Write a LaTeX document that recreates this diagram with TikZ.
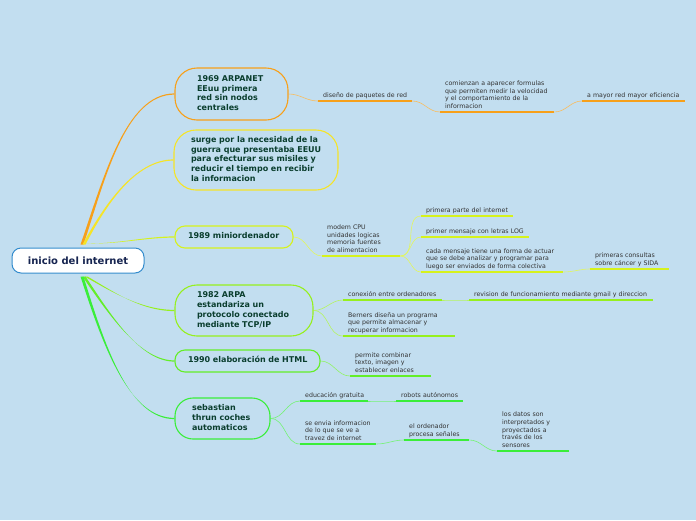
\documentclass[tikz,border=0pt]{standalone}
\usepackage{fontspec}
\setmainfont{DejaVu Sans}
\usetikzlibrary{calc}
\definecolor{bgc}{RGB}{194,222,240}
\definecolor{rootblue}{RGB}{52,140,205}
\definecolor{navy}{RGB}{22,36,80}
\definecolor{maintext}{RGB}{10,62,46}
\definecolor{subtext}{RGB}{50,50,50}
\definecolor{cO}{RGB}{247,160,26}
\definecolor{cY}{RGB}{245,228,40}
\definecolor{cYG}{RGB}{214,242,28}
\definecolor{cGY}{RGB}{150,240,30}
\definecolor{cG}{RGB}{100,238,40}
\definecolor{cGG}{RGB}{58,238,58}
\pgfdeclarelayer{bg}
\pgfdeclarelayer{conn}
\pgfsetlayers{bg,conn,main}
\newcommand\mylines[1]{\begin{tabular}{@{}l@{}}#1\end{tabular}}
% tapered trunk: #1 colour, #2 start, #3 c1, #4 c2, #5 end node anchor
\newcommand\mytaper[5]{%
  \fill[#1] ($(#2)+(-1.5,0)$) .. controls ($(#3)+(-1,0)$) and ($(#4)+(0,-0.6)$) ..
    ($(#5)+(0,-0.6)$) -- ($(#5)+(0,0.6)$) .. controls ($(#4)+(0,0.6)$) and ($(#3)+(1,0)$) ..
    ($(#2)+(1.5,0)$) -- cycle;}
\tikzset{
  rootbox/.style={draw=rootblue, fill=white, line width=1pt, rounded corners=9pt,
    minimum width=132pt, minimum height=25pt, inner sep=0pt, text=navy,
    font=\fontsize{10}{12}\selectfont\bfseries},
  mainbox/.style={draw=#1, fill=bgc, line width=1.1pt, align=left, text=maintext,
    font=\fontsize{8}{9.8}\selectfont\bfseries, inner ysep=0pt},
  subbox/.style={anchor=south west, inner xsep=5pt, inner ysep=1pt, text width=#1,
    align=left, text=subtext, font=\fontsize{6.25}{7.7}\selectfont},
  twig/.style={draw=#1!70!white, line width=0.6pt},
  uline/.style={draw=#1, line width=1.7pt}
}
\begin{document}
\begin{tikzpicture}[x=1pt,y=-1pt]
\begin{pgfonlayer}{bg}
\fill[bgc] (0,0) rectangle (696,520);
\end{pgfonlayer}
\useasboundingbox (0,0) rectangle (696,520);

% root
\node[rootbox] (root) at (78,260.5) {inicio del internet};

% main nodes
\node[mainbox=cO, minimum width=113pt, minimum height=52pt, inner xsep=22pt, text width=69pt, rounded corners=22pt] (n1) at (231.5,94) {\mylines{1969 ARPANET\\EEuu primera\\red sin nodos\\centrales}};
\node[mainbox=cY, minimum width=164pt, minimum height=60pt, inner xsep=17pt, text width=130pt, rounded corners=22pt] (n2) at (256,160) {\mylines{surge por la necesidad de la\\guerra que presentaba EEUU\\para efecturar sus misiles y\\reducir el tiempo en recibir\\la informacion}};
\node[mainbox=cYG, minimum width=118pt, minimum height=22pt, inner xsep=13pt, text width=92pt, rounded corners=10pt] (n3) at (234,237) {\mylines{1989 miniordenador}};
\node[mainbox=cGY, minimum width=138pt, minimum height=51pt, inner xsep=22pt, text width=94pt, rounded corners=22pt] (n4) at (244,310.5) {\mylines{1982 ARPA\\estandariza un\\protocolo conectado\\mediante TCP/IP}};
\node[mainbox=cG, minimum width=145pt, minimum height=22pt, inner xsep=13pt, text width=119pt, rounded corners=10pt] (n5) at (247.5,361) {\mylines{1990 elaboración de HTML}};
\node[mainbox=cGG, minimum width=95pt, minimum height=41pt, inner xsep=17pt, text width=61pt, rounded corners=18pt] (n6) at (222.5,418.5) {\mylines{sebastian\\thrun coches\\automaticos}};

% sub nodes: ARPANET
\node[subbox=84pt] (a1) at (318,101) {\mylines{diseño de paquetes de red}};
\node[subbox=104pt] (a2) at (440,112) {\mylines{comienzan a aparecer formulas\\que permiten medir la velocidad\\y el comportamiento de la\\informacion}};
\node[subbox=93pt] (a3) at (582,101) {\mylines{a mayor red mayor eficiencia}};
% 1989
\node[subbox=68pt] (b1) at (322,256) {\mylines{modem CPU\\unidades logicas\\memoria fuentes\\de alimentacion}};
\node[subbox=82pt] (b2) at (421,216) {\mylines{primera parte del internet}};
\node[subbox=98pt] (b3) at (421,237) {\mylines{primer mensaje con letras LOG}};
\node[subbox=132pt] (b4) at (421,272) {\mylines{cada mensaje tiene una forma de actuar\\que se debe analizar y programar para\\luego ser enviados de forma colectiva}};
\node[subbox=69pt] (b5) at (590,269) {\mylines{primeras consultas\\sobre cáncer y SIDA}};
% 1982
\node[subbox=89pt] (c1) at (343,300) {\mylines{conexión entre ordenadores}};
\node[subbox=174pt] (c2) at (469,300) {\mylines{revision de funcionamiento mediante gmail y direccion}};
\node[subbox=102pt] (c3) at (343,336) {\mylines{Berners diseña un programa\\que permite almacenar y\\recuperar informacion}};
% HTML
\node[subbox=71pt] (d1) at (350,376) {\mylines{permite combinar\\texto, imagen y\\establecer enlaces}};
% sebastian
\node[subbox=58pt] (e1) at (300,401) {\mylines{educación gratuita}};
\node[subbox=57pt] (e2) at (396,401) {\mylines{robots autónomos}};
\node[subbox=66pt] (e3) at (300,444) {\mylines{se envia informacion\\de lo que se ve a\\travez de internet}};
\node[subbox=55pt] (e4) at (404,440) {\mylines{el ordenador\\procesa señales}};
\node[subbox=62pt] (e5) at (497,451) {\mylines{los datos son\\interpretados y\\proyectados a\\través de los\\sensores}};

% trunk start points (hidden under the root box)
\coordinate (r1) at ([xshift=4pt,yshift=3pt]root.north);
\coordinate (r2) at ([xshift=6pt,yshift=3pt]root.north);
\coordinate (r3) at ([xshift=8pt,yshift=4pt]root.north);
\coordinate (r4) at ([xshift=8pt,yshift=-3pt]root.south);
\coordinate (r5) at ([xshift=6pt,yshift=-3pt]root.south);
\coordinate (r6) at ([xshift=4pt,yshift=-3pt]root.south);

\begin{pgfonlayer}{conn}
% tapered trunks from root
\mytaper{cO}{r1}{104,180}{125,94}{n1.west}
\mytaper{cY}{r2}{105,205}{135,160}{n2.west}
\mytaper{cYG}{r3}{120,244}{145,237}{n3.west}
\mytaper{cGY}{r4}{110,290}{140,310.5}{n4.west}
\mytaper{cG}{r5}{110,315}{140,361}{n5.west}
\mytaper{cGG}{r6}{105,350}{130,418.5}{n6.west}
% twigs
\draw[twig=cO] (n1.east) to[out=0,in=180] (a1.south west);
\draw[twig=cO] (a1.south east) to[out=0,in=180] (a2.south west);
\draw[twig=cO] (a2.south east) to[out=0,in=180] (a3.south west);
\draw[twig=cYG] (n3.east) to[out=0,in=180] (b1.south west);
\draw[twig=cYG] (b1.south east) to[out=0,in=180] (b2.south west);
\draw[twig=cYG] (b1.south east) to[out=0,in=180] (b3.south west);
\draw[twig=cYG] (b1.south east) to[out=0,in=180] (b4.south west);
\draw[twig=cYG] (b4.south east) to[out=0,in=180] (b5.south west);
\draw[twig=cGY] (n4.east) to[out=0,in=180] (c1.south west);
\draw[twig=cGY] (n4.east) to[out=0,in=180] (c3.south west);
\draw[twig=cGY] (c1.south east) to[out=0,in=180] (c2.south west);
\draw[twig=cG] (n5.east) to[out=0,in=180] (d1.south west);
\draw[twig=cGG] (n6.east) to[out=0,in=180] (e1.south west);
\draw[twig=cGG] (n6.east) to[out=0,in=180] (e3.south west);
\draw[twig=cGG] (e1.south east) to[out=0,in=180] (e2.south west);
\draw[twig=cGG] (e3.south east) to[out=0,in=180] (e4.south west);
\draw[twig=cGG] (e4.south east) to[out=0,in=180] (e5.south west);
\end{pgfonlayer}
% underlines
\foreach \n/\c in {a1/cO,a2/cO,a3/cO,b1/cYG,b2/cYG,b3/cYG,b4/cYG,b5/cYG,c1/cGY,c2/cGY,c3/cGY,d1/cG,e1/cGG,e2/cGG,e3/cGG,e4/cGG,e5/cGG}
  \draw[uline=\c] (\n.south west) -- (\n.south east);
\end{tikzpicture}
\end{document}
